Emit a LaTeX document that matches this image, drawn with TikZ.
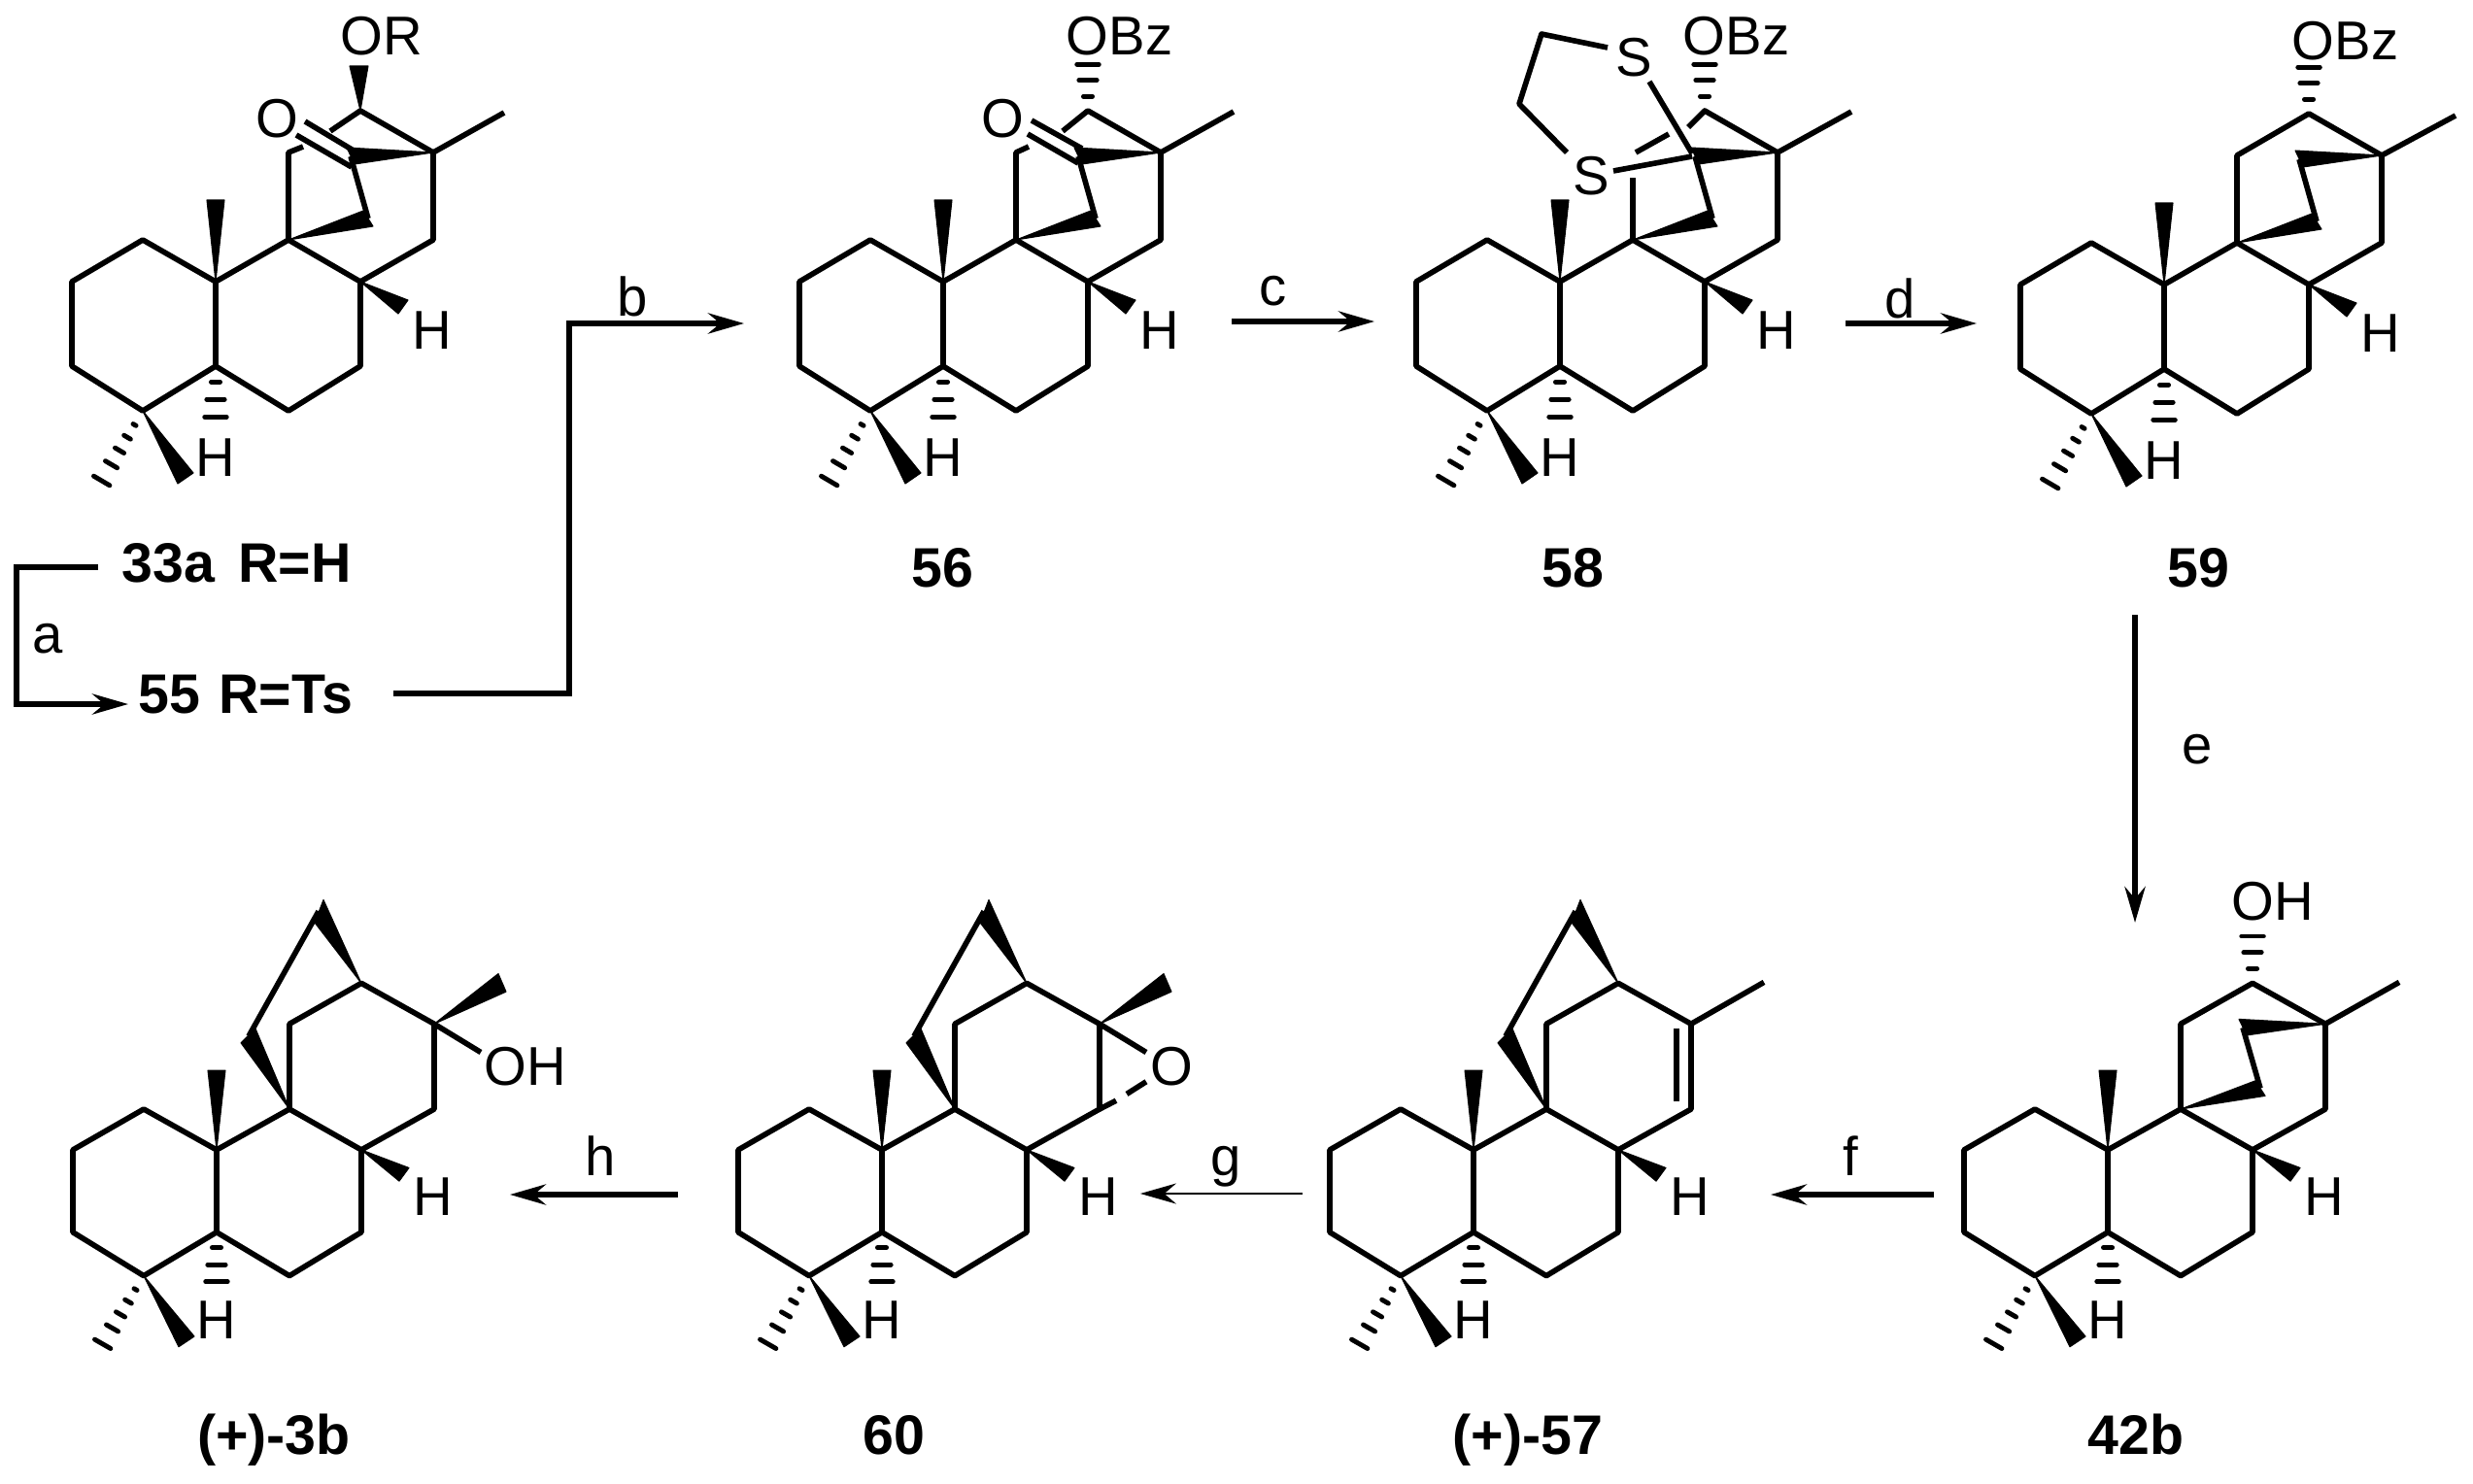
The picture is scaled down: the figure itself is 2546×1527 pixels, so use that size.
\documentclass[tikz,border=0pt]{standalone}
\usepackage{fontspec}
\setmainfont{Liberation Sans}
\usetikzlibrary{arrows.meta,calc}

\tikzset{
    bond/.style={line width=1.6pt,line join=round},
    hash/.style={line width=1.4pt,line cap=round},
    wedge/.style={fill=black,draw=black,line width=0.3pt,line join=round},
    atom/.style={inner sep=0pt,font=\fontsize{16}{16}\selectfont},
    cmpd/.style={inner sep=0pt,anchor=base,font=\fontsize{16.3}{16}\selectfont\bfseries},
    rxn/.style={line width=1.6pt,-{Stealth[length=10.5pt,width=6pt,inset=3.5pt]}},
}

% hashed bonds: three bars for H and OR, five bars for the methyl
\newcommand{\hashshort}[2]{%
    \foreach \pos/\wid in {.27/1.3,.57/2.6,.87/3.2}
        \draw[hash] ($#1!\pos!#2!\wid pt!90:#2$) -- ($#1!\pos!#2!\wid pt!-90:#2$);}
\newcommand{\hashlong}[2]{%
    \foreach \pos/\wid in {.18/.5,.34/1.1,.51/1.5,.69/2,.9/2.7}
        \draw[hash] ($#1!\pos!#2!\wid pt!90:#2$) -- ($#1!\pos!#2!\wid pt!-90:#2$);}

% rings A and B, the start of ring C, and their substituents
\newcommand{\ringcore}[1]{%
    \coordinate (#1q) at (0,0);
    \coordinate (#1a1) at (-150,0);
    \coordinate (#1a2) at (-223,43);
    \coordinate (#1a3) at (-223,130);
    \coordinate (#1a4) at (-150,176);
    \coordinate (#1a5) at (-75,130);
    \coordinate (#1a6) at (-75,43);
    \coordinate (#1b1) at (74,43);
    \coordinate (#1b2) at (74,130);
    \coordinate (#1b3) at (0,176);
    \coordinate (#1c1) at (149,0);
    \coordinate (#1c2) at (149,-90);
    \coordinate (#1c3) at (74,-133);
    \coordinate (#1c4) at (0,-90);
    \draw[bond] (#1a1) -- (#1a2) -- (#1a3) -- (#1a4) -- (#1a5) -- (#1a6) -- cycle;
    \draw[bond] (#1a6) -- (#1q) -- (#1b1) -- (#1b2) -- (#1b3) -- (#1a5);
    \draw[bond] (#1b1) -- (#1c1) -- (#1c2);
    \fill[wedge] (#1a6) -- (-84,-41) -- (-66,-41) -- cycle;
    \fill[wedge] (#1b1) -- (123,62) -- (113,76) -- cycle;
    \fill[wedge] (#1a4) -- (-98,240) -- (-114,251) -- cycle;
    \hashshort{(#1a5)}{(-75,190)}
    \hashlong{(#1a4)}{(-197,256)}
    \node[atom,anchor=base] (#1hr) at (148,112) {H};
    \node[atom,anchor=base] (#1hl) at (-75,243) {H};
}

% two-carbon bridge drawn inside ring C
\newcommand{\innerbridge}[1]{%
    \coordinate (#1d1) at (64,-86);
    \coordinate (#1d2) at (82,-22);
    \fill[wedge] (#1c2) -- (60,-95) -- (68,-78) -- cycle;
    \fill[wedge] (#1q) -- (77,-30) -- (87,-14) -- cycle;
    \draw[bond] (#1d1) -- (#1d2);
}

% two-carbon bridge drawn above ring C
\newcommand{\upperbridge}[1]{%
    \coordinate (#1d1) at (-42,-77);
    \coordinate (#1d2) at (30,-209);
    \fill[wedge] (#1q) -- (-50,-70) -- (-35,-85) -- cycle;
    \fill[wedge] (#1c3) -- (35,-221) -- (26,-197) -- cycle;
    \draw[bond] (#1d1) -- (#1d2);
}

\begin{document}
\begin{tikzpicture}[x=0.01cm,y=-0.01cm]
    \useasboundingbox (0,0) rectangle (2546,1527);

    % 33a / 55
    \begin{scope}[shift={(297,247)}]
        \ringcore{k}
        \innerbridge{k}
        \coordinate (ke) at (222,-131);
        \coordinate (ks1) at (43,-112);
        \coordinate (ks2) at (15,-96);
        \coordinate (ko1) at (17,-122);
        \coordinate (ko2) at (67,-92);
        \coordinate (ko3) at (8,-108);
        \coordinate (ko4) at (65,-75);
        \draw[bond] (kc2) -- (ke);
        \draw[bond] (ks1) -- (kc3) -- (kc2);
        \draw[bond] (kq) -- (kc4) -- (ks2);
        \draw[bond] (ko1) -- (ko2);
        \draw[bond] (ko3) -- (ko4);
        \fill[wedge] (kc3) -- (63,-179) -- (82,-179) -- cycle;
        \node[atom] (ko) at (-12,-125) {O};
        \node[atom,anchor=base west] (kr) at (53,-190) {OR};
    \end{scope}
    \node[cmpd,anchor=base west] (l33) at (125,599) {33a\hspace{.42em}R=H};
    \node[cmpd,anchor=base west] (l55) at (142,734) {55\hspace{.33em}R=Ts};

    % 56
    \begin{scope}[shift={(1046,247)}]
        \ringcore{m}
        \innerbridge{m}
        \coordinate (me) at (224,-132);
        \coordinate (ms1) at (48,-112);
        \coordinate (ms2) at (13,-96);
        \coordinate (mo1) at (16,-123);
        \coordinate (mo2) at (68,-94);
        \coordinate (mo3) at (12,-109);
        \coordinate (mo4) at (64,-79);
        \draw[bond] (mc2) -- (me);
        \draw[bond] (ms1) -- (mc3) -- (mc2);
        \draw[bond] (mq) -- (mc4) -- (ms2);
        \draw[bond] (mo1) -- (mo2);
        \draw[bond] (mo3) -- (mo4);
        \hashshort{(mc3)}{(74,-188)}
        \node[atom] (mo) at (-14,-125) {O};
        \node[atom,anchor=base west] (mr) at (51,-190) {OBz};
    \end{scope}
    \node[cmpd] (l56) at (970,604) {56};

    % 58
    \begin{scope}[shift={(1681,247)}]
        \ringcore{n}
        \innerbridge{n}
        \coordinate (ne) at (225,-132);
        \coordinate (ns1) at (57,-116);
        \coordinate (ns2) at (37,-109);
        \coordinate (ns3) at (3,-90);
        \coordinate (ns4) at (0,-64);
        \coordinate (nt1) at (17,-163);
        \coordinate (nt2) at (61,-89);
        \coordinate (nt3) at (-20,-71);
        \coordinate (nt4) at (61,-86);
        \coordinate (nu1) at (-26,-198);
        \coordinate (nu2) at (-94,-212);
        \coordinate (nu3) at (-117,-140);
        \coordinate (nu4) at (-68,-90);
        \draw[bond] (nc2) -- (ne);
        \draw[bond] (ns1) -- (nc3) -- (nc2);
        \draw[bond] (ns2) -- (ns3);
        \draw[bond] (nq) -- (ns4);
        \draw[bond] (nt1) -- (nt2);
        \draw[bond] (nt3) -- (nt4);
        \draw[bond] (nu1) -- (nu2) -- (nu3) -- (nu4);
        \hashshort{(nc3)}{(74,-188)}
        \node[atom] (ns) at (1,-188) {S};
        \node[atom] (nz) at (-43,-66) {S};
        \node[atom,anchor=base west] (nr) at (51,-190) {OBz};
    \end{scope}
    \node[cmpd] (l58) at (1619,604) {58};

    % 59
    \begin{scope}[shift={(2303,250)}]
        \ringcore{p}
        \innerbridge{p}
        \coordinate (pe) at (225,-131);
        \draw[bond] (pc2) -- (pe);
        \draw[bond] (pq) -- (pc4) -- (pc3) -- (pc2);
        \hashshort{(pc3)}{(74,-188)}
        \node[atom,anchor=base west] (pr) at (56,-189) {OBz};
    \end{scope}
    \node[cmpd] (l59) at (2263,604) {59};

    % 42b
    \begin{scope}[shift={(2245,1142)},yscale=.975]
        \ringcore{s}
        \innerbridge{s}
        \coordinate (se) at (225,-134);
        \draw[bond] (sc2) -- (se);
        \draw[bond] (sq) -- (sc4) -- (sc3) -- (sc2);
        \hashshort{(sc3)}{(74,-190)}
        \node[atom,anchor=base west] (sr) at (52,-199) {OH};
    \end{scope}
    \node[cmpd] (l42) at (2199,1497) {42b};

    % 57
    \begin{scope}[shift={(1592,1142)},yscale=.975]
        \ringcore{t}
        \upperbridge{t}
        \coordinate (te) at (224,-134);
        \coordinate (tf1) at (134,-85);
        \coordinate (tf2) at (134,-8);
        \draw[bond] (tc2) -- (te);
        \draw[bond] (tq) -- (tc4) -- (tc3) -- (tc2);
        \draw[bond] (tf1) -- (tf2);
    \end{scope}
    \node[cmpd] (l57) at (1573,1497) {(+)-57};

    % 60
    \begin{scope}[shift={(983,1142)},yscale=.975]
        \ringcore{u}
        \upperbridge{u}
        \coordinate (ue1) at (197,-60);
        \coordinate (ue2) at (166,-9);
        \coordinate (ue3) at (177,-16);
        \coordinate (ue4) at (197,-29);
        \draw[bond] (uq) -- (uc4) -- (uc3) -- (uc2);
        \draw[bond] (uc2) -- (ue1);
        \draw[bond] (uc1) -- (ue2);
        \draw[bond] (ue3) -- (ue4);
        \fill[wedge] (uc2) -- (215,-143) -- (223,-124) -- cycle;
        \node[atom] (uo) at (223,-45) {O};
    \end{scope}
    \node[cmpd] (l60) at (920,1497) {60};

    % 3b
    \begin{scope}[shift={(298,1142)},yscale=.975]
        \ringcore{v}
        \upperbridge{v}
        \coordinate (ve) at (197,-60);
        \draw[bond] (vq) -- (vc4) -- (vc3) -- (vc2);
        \draw[bond] (vc2) -- (ve);
        \fill[wedge] (vc2) -- (215,-143) -- (223,-124) -- cycle;
        \node[atom,anchor=base west] (vr) at (200,-25) {OH};
    \end{scope}
    \node[cmpd] (l3) at (282,1497) {(+)-3b};

    % reaction arrows
    \coordinate (a0) at (101,584);
    \coordinate (a1) at (17,584);
    \coordinate (a2) at (17,725);
    \coordinate (a3) at (132,725);
    \draw[rxn] (a0) -- (a1) -- (a2) -- (a3);
    \node[atom] (la) at (49,658) {a};

    \coordinate (b0) at (405,714);
    \coordinate (b1) at (586,714);
    \coordinate (b2) at (586,333);
    \coordinate (b3) at (766,333);
    \draw[rxn] (b0) -- (b1) -- (b2) -- (b3);
    \node[atom] (lb) at (651,305) {b};

    \coordinate (c0) at (1268,331);
    \coordinate (c1) at (1415,331);
    \draw[rxn] (c0) -- (c1);
    \node[atom] (lc) at (1311,300) {c};

    \coordinate (d0) at (1900,333);
    \coordinate (d1) at (2035,333);
    \draw[rxn] (d0) -- (d1);
    \node[atom] (ld) at (1956,307) {d};

    \coordinate (e0) at (2198,633);
    \coordinate (e1) at (2198,950);
    \draw[rxn] (e0) -- (e1);
    \node[atom] (le) at (2262,772) {e};

    \coordinate (f0) at (1991,1230);
    \coordinate (f1) at (1823,1230);
    \draw[rxn] (f0) -- (f1);
    \node[atom] (lf) at (1905,1190) {f};

    \coordinate (g0) at (1341,1229);
    \coordinate (g1) at (1174,1229);
    \draw[rxn,line width=0.35pt] (g0) -- (g1);
    \node[atom] (lg) at (1262,1201) {g};

    \coordinate (h0) at (698,1230);
    \coordinate (h1) at (525,1230);
    \draw[rxn] (h0) -- (h1);
    \node[atom] (lh) at (618,1190) {h};
\end{tikzpicture}
\end{document}
